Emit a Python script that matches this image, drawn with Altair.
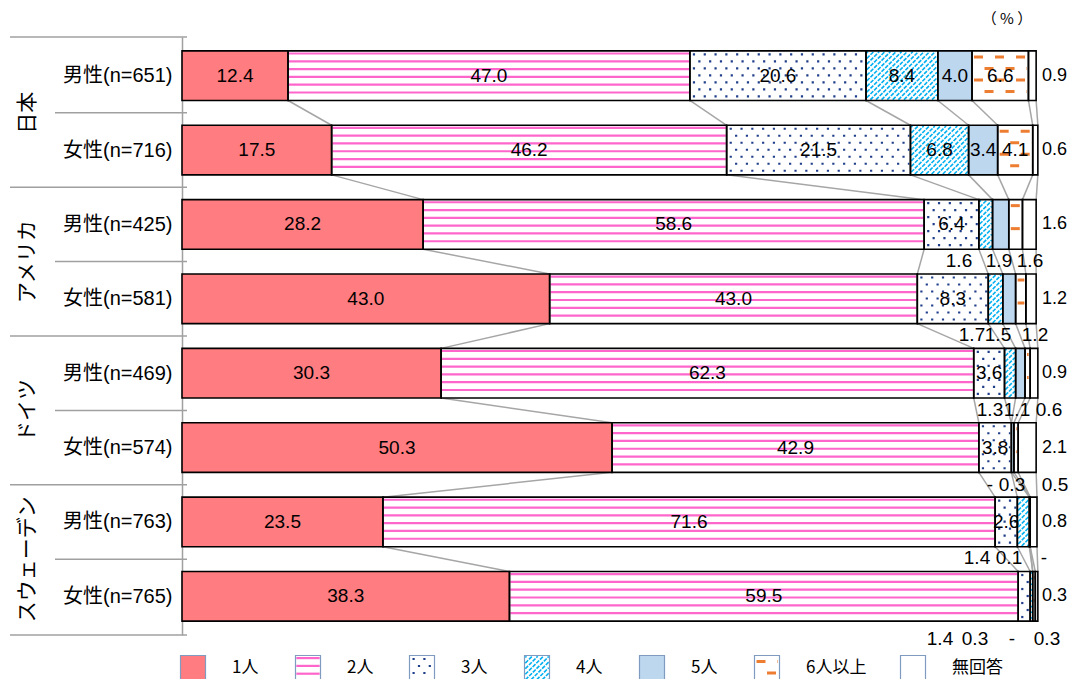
import json
import altair as alt
import pandas as pd

# ---------------- data ----------------
cats = ["1人", "2人", "3人", "4人", "5人", "6人以上", "無回答"]
groups = ["日本", "アメリカ", "ドイツ", "スウェーデン"]
row_labels = ["男性(n=651)", "女性(n=716)", "男性(n=425)", "女性(n=581)",
              "男性(n=469)", "女性(n=574)", "男性(n=763)", "女性(n=765)"]

jp_m = [12.4, 47.0, 20.6, 8.4, 4.0, 6.6, 0.9]
jp_f = [17.5, 46.2, 21.5, 6.8, 3.4, 4.1, 0.6]
us_m = [28.2, 58.6, 6.4, 1.6, 1.9, 1.6, 1.6]
us_f = [43.0, 43.0, 8.3, 1.7, 1.5, 1.2, 1.2]
de_m = [30.3, 62.3, 3.6, 1.3, 1.1, 0.6, 0.9]
de_f = [50.3, 42.9, 3.8, None, 0.3, 0.5, 2.1]
se_m = [23.5, 71.6, 2.6, 1.4, 0.1, None, 0.8]
se_f = [38.3, 59.5, 1.4, 0.3, None, 0.3, 0.3]
rows = [jp_m, jp_f, us_m, us_f, de_m, de_f, se_m, se_f]

# ---------------- layout (kept apart from the data) ----------------
W, H = 855, 598
Y0, Y1 = -0.52, 7.52
XPX = W / 100.0
YPX = H / (Y1 - Y0)
HALF = 24.8 / YPX
PLOT_LEFT = 182   # page px of the plot's left edge
PLOT_TOP = 37     # page px of the plot's top edge
REF_LEFT = 185    # plot left in the reference (for measured label positions)

inside_count = [6, 6, 3, 3, 3, 3, 3, 2]
below_label_px = [[], [], [962, 1002, 1033], [975, 1001, 1038],
                  [993, 1020, 1052], [993, 1015, 1058],
                  [980, 1012, 1047], [943, 978, 1015, 1050]]
below_dy = [0.49, 0.49, 0.49, 0.49, 0.49, 0.5, 0.49, 0.57]

LEG_CX_PX = [196, 311, 425, 540, 655, 770, 916]
LEG_CY_PX = 668
LEG_HALF_PX = 12.5
LEG_LABEL_DX = 39

FONT = "Liberation Sans, Noto Sans CJK JP"
JFONT = "Noto Sans CJK JP"
fill_range = ["#FF7C80", "#FFFFFF", "#FFFFFF", "#FFFFFF", "#BDD7EE", "#FFFFFF", "#FFFFFF"]


def add(out, kind, X0, Ya, X1, Yb):
    out.append(dict(kind=kind, x=X0 / XPX, x2=X1 / XPX, y=Ya / YPX, y2=Yb / YPX))


def pattern(cat, x0, x1, yt, yb, out):
    X0, X1, T, B = x0 * XPX, x1 * XPX, yt * YPX, yb * YPX
    if X1 - X0 < 1.5:
        return
    if cat == "2人":
        y = T + 2.6
        while y < B - 1.2:
            add(out, "stripe", X0 + 0.8, y, X1 - 0.8, y)
            y += 7.8
    elif cat == "3人":
        y, i = T + 3.5, 0
        while y < B - 2:
            s = X0 + 3 + (5.4 if i % 2 else 0)
            if s < X1 - 2:
                add(out, "dot", s, y, X1 - 1, y)
            y += 7
            i += 1
    elif cat == "4人":
        st = 5.6
        c = X0 + T + st / 2
        while c < X1 + B:
            xa = max(X0 + 0.8, c - (B - 0.8))
            xb = min(X1 - 0.8, c - (T + 0.8))
            if xb - xa > 0.6:
                add(out, "hatch", xa, c - xa, xb, c - xb)
            c += st
    elif cat == "6人以上":
        y, i = T + 6, 0
        while y < B - 3:
            add(out, "dashA" if i % 2 == 0 else "dashB", X0 + 2, y, X1 - 1.5, y)
            y += 11.5
            i += 1


def txt(v):
    return "-" if v is None else f"{v:.1f}"


segs, pats, lbl_c, lbl_r, conns, cums = [], [], [], [], [], []
for r, vals in enumerate(rows):
    cum = 0.0
    bounds = [0.0]
    for k, v in enumerate(vals):
        w = v if v is not None else 0.0
        x0, x1 = cum, cum + w
        if w > 0:
            segs.append(dict(cat=cats[k], x=x0, x2=x1, y=r - HALF, y2=r + HALF))
            pattern(cats[k], x0, x1, r - HALF, r + HALF, pats)
        cum = x1
        bounds.append(cum)
    cums.append(bounds)
    n_in = inside_count[r]
    for k in range(n_in):
        lbl_c.append(dict(x=(bounds[k] + bounds[k + 1]) / 2, y=r, text=txt(vals[k])))
    for j, k in enumerate(range(n_in, 6)):
        lbl_c.append(dict(x=(below_label_px[r][j] - REF_LEFT) / XPX,
                          y=r + below_dy[r], text=txt(vals[k])))
    lbl_r.append(dict(x=100.0, y=r, text=txt(vals[6])))

for r in range(len(rows) - 1):
    for k in range(1, 8):
        conns.append(dict(x=cums[r][k], x2=cums[r + 1][k], y=r + HALF, y2=r + 1 - HALF))

leg_segs, leg_lbl = [], []
cy = Y0 + (LEG_CY_PX - PLOT_TOP) / YPX
hx, hy = LEG_HALF_PX / XPX, LEG_HALF_PX / YPX
for i, c in enumerate(cats):
    cx = (LEG_CX_PX[i] - REF_LEFT) / XPX
    leg_segs.append(dict(cat=c, x=cx - hx, x2=cx + hx, y=cy - hy, y2=cy + hy))
    pattern(c, cx - hx, cx + hx, cy - hy, cy + hy, pats)
    leg_lbl.append(dict(x=cx + LEG_LABEL_DX / XPX, y=cy, text=c))

pct_df = pd.DataFrame([dict(x=(1010 - REF_LEFT) / XPX, y=Y0 - (PLOT_TOP - 19) / YPX, text="（ % ）")])
sep_group = pd.DataFrame(dict(y=[Y0, 1.5, 3.5, 5.5, Y1]))
sep_sub = pd.DataFrame(dict(y=[0.5, 2.5, 4.5, 6.5]))
grp_df = pd.DataFrame(dict(y=[0.5, 2.5, 4.5, 6.5], text=groups))

# ---------------- chart ----------------
xs = alt.Scale(domain=[0, 100], nice=False, zero=False)
ys = alt.Scale(domain=[Y0, Y1], reverse=True, nice=False, zero=False)
X = alt.X("x:Q", scale=xs, axis=None)
label_expr = json.dumps(row_labels, ensure_ascii=False) + "[datum.value]"
yaxis = alt.Axis(values=list(range(8)), labelExpr=label_expr, ticks=False, grid=False,
                 domainColor="#A0A0A0", domainWidth=1.5, labelFontSize=20, labelFont=FONT,
                 labelColor="black", labelPadding=10, labelOverlap=False, labelFlush=False,
                 title=None)
Yn = alt.Y("y:Q", scale=ys, axis=yaxis)

fill = alt.Fill("cat:N", scale=alt.Scale(domain=cats, range=fill_range), legend=None)
pats_df = pd.DataFrame(pats)

layers = []
layers.append(alt.Chart(sep_group).mark_rule(color="#A0A0A0", strokeWidth=1.5).encode(
    x=alt.value(-172), x2=alt.value(5), y=Yn))
layers.append(alt.Chart(sep_sub).mark_rule(color="#A0A0A0", strokeWidth=1.5).encode(
    x=alt.value(-127), x2=alt.value(5), y=Yn))
layers.append(alt.Chart(pd.DataFrame(conns)).mark_rule(color="#A6A6A6", strokeWidth=1.5).encode(
    x=X, x2="x2:Q", y=Yn, y2="y2:Q"))
layers.append(alt.Chart(pd.DataFrame(segs)).mark_rect(strokeWidth=0).encode(
    x=X, x2="x2:Q", y=Yn, y2="y2:Q", fill=fill))
layers.append(alt.Chart(pd.DataFrame(leg_segs)).mark_rect(strokeWidth=0).encode(
    x=X, x2="x2:Q", y=Yn, y2="y2:Q", fill=fill))

styles = {
    "stripe": dict(color="#FF66CC", strokeWidth=2.2),
    "dot": dict(color="#203F8A", strokeWidth=2.2, strokeDash=[2.2, 8.6]),
    "hatch": dict(color="#00B0F0", strokeWidth=1.6, strokeDash=[4, 1.2]),
    "dashA": dict(color="#ED7D31", strokeWidth=3, strokeDash=[9, 12]),
    "dashB": dict(color="#ED7D31", strokeWidth=3, strokeDash=[9, 12], strokeDashOffset=10.5),
}
for kind, st in styles.items():
    d = pats_df[pats_df["kind"] == kind]
    if len(d):
        layers.append(alt.Chart(d).mark_rule(**st).encode(x=X, x2="x2:Q", y=Yn, y2="y2:Q"))

layers.append(alt.Chart(pd.DataFrame(segs)).mark_rect(fillOpacity=0, stroke="black", strokeWidth=1.6).encode(
    x=X, x2="x2:Q", y=Yn, y2="y2:Q"))
layers.append(alt.Chart(pd.DataFrame(leg_segs)).mark_rect(fillOpacity=0, stroke="#7F9CC0", strokeWidth=1.2).encode(
    x=X, x2="x2:Q", y=Yn, y2="y2:Q"))

layers.append(alt.Chart(pd.DataFrame(lbl_c)).mark_text(font=FONT, fontSize=19, color="black",
                                                       align="center", baseline="middle").encode(
    x=X, y=Yn, text="text:N"))
layers.append(alt.Chart(pd.DataFrame(lbl_r)).mark_text(font=FONT, fontSize=18, color="black",
                                                       align="left", baseline="middle", dx=5).encode(
    x=X, y=Yn, text="text:N"))
layers.append(alt.Chart(pd.DataFrame(leg_lbl)).mark_text(font=JFONT, fontSize=17, color="black",
                                                         align="left", baseline="middle").encode(
    x=X, y=Yn, text="text:N"))
layers.append(alt.Chart(pct_df).mark_text(font=JFONT, fontSize=15, color="black",
                                          align="center", baseline="middle").encode(
    x=X, y=Yn, text="text:N"))
layers.append(alt.Chart(grp_df).mark_text(font=JFONT, fontSize=21, color="black", angle=270,
                                          align="center", baseline="middle").encode(
    x=alt.value(-154), y=Yn, text="text:N"))

chart = alt.layer(*layers).properties(
    width=W, height=H,
    padding={"left": PLOT_LEFT - 8, "top": PLOT_TOP - 8, "right": 1061 - (PLOT_LEFT - 8) - W, "bottom": 44},
    autosize=alt.AutoSizeParams(type="none"),
).configure_view(stroke=None)

chart.save("out.html", embed_options={"renderer": "svg", "actions": False})
